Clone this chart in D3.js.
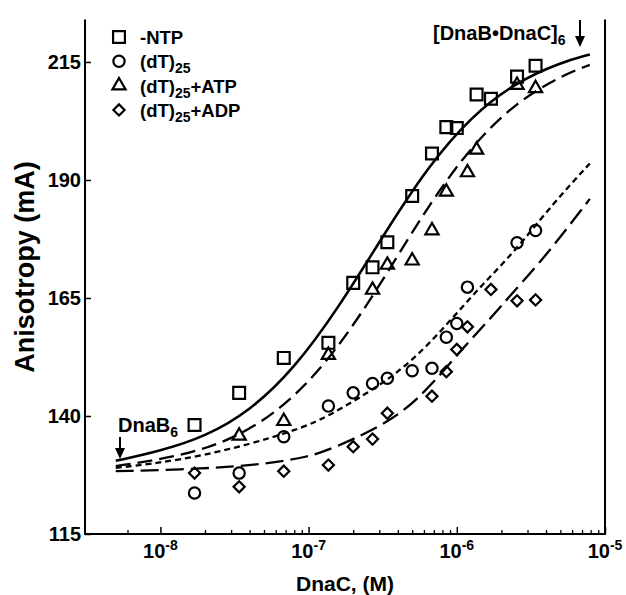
<!DOCTYPE html>
<html>
<head>
<meta charset="utf-8">
<script src="https://cdn.jsdelivr.net/npm/d3@7"></script>
<style>
  body { margin: 0; background: #fff; }
  text { font-family: "Liberation Sans", Arial, sans-serif; font-weight: bold; fill: #000; }
</style>
</head>
<body>
<div id="chart-container"></div>
<script>
// DnaC titration of DnaB6, anisotropy readings (mA)

// x positions of measurements (M)
const conc = [1.7e-8, 3.4e-8, 6.8e-8, 1.36e-7, 2.0e-7, 2.7e-7, 3.4e-7, 5.0e-7, 6.8e-7,
              8.5e-7, 1.0e-6, 1.18e-6, 1.36e-6, 1.7e-6, 2.55e-6, 3.4e-6];

// measured points per condition (null = no point at that concentration)
const ntpValues = [138.1, 144.9, 152.3, 155.5, 168.2, 171.5, 176.8, 186.6, 195.6,
                   201.2, 201.0, null, 208.1, 207.2, 211.9, 214.2];
const dtValues  = [123.7, 127.9, 135.6, 142.1, 144.9, 146.9, 148.0, 149.6, 150.1,
                   156.7, 159.6, 167.3, null, null, 176.7, 179.3];
const atpValues = [null, 135.8, 138.9, 152.9, null, 166.7, 172.0, 172.9, 179.3,
                   187.5, null, 191.6, 196.4, null, 210.1, 209.4];
const adpValues = [127.9, 125.0, 128.3, 129.6, 133.5, 135.1, 140.6, null, 144.2,
                   149.4, 154.1, 158.9, null, 166.8, 164.4, 164.6];

// fitted binding curves: [conc, value]
const ntpFit = [[5.0e-9, 130.5], [1e-8, 132.6], [2e-8, 135.6], [4e-8, 141.0], [8e-8, 150.0],
                [1.6e-7, 163.0], [3.2e-7, 178.3], [6.3e-7, 192.6], [1.26e-6, 203.6],
                [2.5e-6, 210.7], [5e-6, 214.9], [7.9e-6, 216.6]];
const atpFit = [[5.0e-9, 129.4], [1e-8, 130.8], [2e-8, 132.9], [4e-8, 136.9], [8e-8, 143.8],
                [1.6e-7, 154.5], [3.2e-7, 168.9], [6.3e-7, 184.2], [1.26e-6, 197.3],
                [2.5e-6, 206.4], [5e-6, 212.0], [7.9e-6, 214.4]];
const dtFit  = [[5.0e-9, 129.0], [1.85e-8, 131.1], [8.7e-8, 137.0], [1.47e-7, 140.6],
                [2.47e-7, 144.8], [3.93e-7, 149.0], [6.27e-7, 154.7], [1.0e-6, 161.8],
                [1.59e-6, 168.8], [2.4e-6, 174.5], [4.49e-6, 185.1], [7.9e-6, 193.5]];
const adpFit = [[5.0e-9, 128.3], [2e-8, 128.8], [5e-8, 129.8], [1e-7, 131.3], [1.47e-7, 133.2],
                [2.73e-7, 137.0], [5.2e-7, 142.3], [1.14e-6, 155.0], [1.67e-6, 160.5],
                [2.29e-6, 165.5], [3.64e-6, 172.5], [5.8e-6, 180.5], [7.9e-6, 186.0]];

const yTicks = [115, 140, 165, 190, 215];
const xTicks = [1e-8, 1e-7, 1e-6, 1e-5];
const xTickExp = ["-8", "-7", "-6", "-5"];

const series = [
  { name: "-NTP", sub: "", tail: "", values: ntpValues, fit: ntpFit, shape: "square", dash: null },
  { name: "(dT)", sub: "25", tail: "", values: dtValues, fit: dtFit, shape: "circle", dash: "6,4" },
  { name: "(dT)", sub: "25", tail: "+ATP", values: atpValues, fit: atpFit, shape: "triangle", dash: "15,7" },
  { name: "(dT)", sub: "25", tail: "+ADP", values: adpValues, fit: adpFit, shape: "diamond", dash: "18,7" }
];

const W = 626, H = 595;
const mLeft = 85, mRight = 605, mTop = 19.5, mBottom = 534;

const svg = d3.select("#chart-container")
  .append("svg")
  .attr("width", W)
  .attr("height", H);

const xScale = d3.scaleLog().domain([3.1e-9, 1e-5]).range([mLeft, mRight]);
const yScale = d3.scaleLinear().domain([115, 224]).range([mBottom, mTop]);

// frame
svg.append("path")
  .attr("d", `M${mLeft},${mTop}V${mBottom}H${mRight}V${mTop}`)
  .attr("fill", "none")
  .attr("stroke", "#000")
  .attr("stroke-width", 2);

// y axis, ticks pointing inward
const yAxis = d3.axisLeft(yScale).tickValues(yTicks).tickSize(-6).tickPadding(4);
svg.append("g")
  .attr("transform", `translate(${mLeft},0)`)
  .call(yAxis)
  .call(g => g.select(".domain").remove())
  .call(g => g.selectAll("line").attr("stroke-width", 1.5))
  .call(g => g.selectAll("text").attr("font-size", 20).attr("font-family", null));

// x axis major + minor ticks, inward
const minor = [6e-9];
for (let e = -8; e < -5; e++) {
  for (let m = 2; m <= 9; m++) minor.push(m * Math.pow(10, e));
}
svg.append("g")
  .attr("transform", `translate(0,${mBottom})`)
  .call(d3.axisBottom(xScale).tickValues(minor).tickSize(-4).tickFormat(""))
  .call(g => g.select(".domain").remove())
  .call(g => g.selectAll("line").attr("stroke-width", 1.3));
svg.append("g")
  .attr("transform", `translate(0,${mBottom})`)
  .call(d3.axisBottom(xScale).tickValues(xTicks).tickSize(-7).tickFormat(""))
  .call(g => g.select(".domain").remove())
  .call(g => g.selectAll("line").attr("stroke-width", 1.5));

// x tick labels 10^n
const xLab = svg.append("g").selectAll("text")
  .data(xTicks)
  .enter()
  .append("text")
  .attr("x", d => xScale(d))
  .attr("y", 558)
  .attr("text-anchor", "middle")
  .attr("font-size", 20);
xLab.append("tspan").text("10");
xLab.append("tspan").attr("font-size", 14).attr("dy", -8).text((d, i) => xTickExp[i]);

// axis titles
svg.append("text")
  .attr("x", (mLeft + mRight) / 2)
  .attr("y", 591)
  .attr("text-anchor", "middle")
  .attr("font-size", 21)
  .text("DnaC, (M)");

svg.append("text")
  .attr("transform", "translate(34,267) rotate(-90)")
  .attr("text-anchor", "middle")
  .attr("font-size", 27)
  .text("Anisotropy (mA)");

// fitted curves
const line = d3.line()
  .x(d => xScale(d[0]))
  .y(d => yScale(d[1]))
  .curve(d3.curveBasis);

series.forEach(s => {
  svg.append("path")
    .datum(s.fit)
    .attr("d", line)
    .attr("fill", "none")
    .attr("stroke", "#000")
    .attr("stroke-width", s.dash ? 2.3 : 2.6)
    .attr("stroke-dasharray", s.dash);
});

// markers
function markerPath(shape) {
  if (shape === "square") return d3.symbol(d3.symbolSquare, 140)();
  if (shape === "circle") return d3.symbol(d3.symbolCircle, 100)();
  if (shape === "triangle") return d3.symbol(d3.symbolTriangle, 75)();
  return d3.symbol(d3.symbolSquare, 62)();
}

series.forEach(s => {
  const pts = conc.map((c, i) => ({ c: c, v: s.values[i] })).filter(d => d.v !== null);
  svg.append("g").selectAll("path")
    .data(pts)
    .enter()
    .append("path")
    .attr("d", markerPath(s.shape))
    .attr("transform", d => `translate(${xScale(d.c)},${yScale(d.v)})` + (s.shape === "diamond" ? " rotate(45)" : ""))
    .attr("fill", "none")
    .attr("stroke", "#000")
    .attr("stroke-width", 2.2);
});

// legend
const legend = svg.append("g");
series.forEach((s, i) => {
  const y = 37 + i * 24.3;
  legend.append("path")
    .attr("d", markerPath(s.shape))
    .attr("transform", `translate(119,${y})` + (s.shape === "diamond" ? " rotate(45)" : ""))
    .attr("fill", "none")
    .attr("stroke", "#000")
    .attr("stroke-width", 2.2);
  const t = legend.append("text")
    .attr("x", 140)
    .attr("y", y + 7)
    .attr("font-size", 18.5);
  t.append("tspan").text(s.name);
  if (s.sub) {
    t.append("tspan").attr("font-size", 14).attr("dy", 5).text(s.sub);
    if (s.tail) t.append("tspan").attr("dy", -5).text(s.tail);
  }
});

// annotations with arrows
function arrow(x, y1, y2) {
  svg.append("line")
    .attr("x1", x).attr("x2", x)
    .attr("y1", y1).attr("y2", y2 - 8)
    .attr("stroke", "#000").attr("stroke-width", 2);
  svg.append("path")
    .attr("d", `M${x - 5},${y2 - 11}L${x + 5},${y2 - 11}L${x},${y2}Z`)
    .attr("fill", "#000");
}

const dnaB = svg.append("text").attr("x", 118).attr("y", 432).attr("font-size", 20);
dnaB.append("tspan").text("DnaB");
dnaB.append("tspan").attr("font-size", 14).attr("dy", 5).text("6");
arrow(120, 437, 459);

const complex = svg.append("text").attr("x", 433).attr("y", 40).attr("font-size", 20);
complex.append("tspan").text("[DnaB\u2022DnaC]");
complex.append("tspan").attr("font-size", 14).attr("dy", 5).text("6");
arrow(580, 20, 47);
</script>
</body>
</html>
